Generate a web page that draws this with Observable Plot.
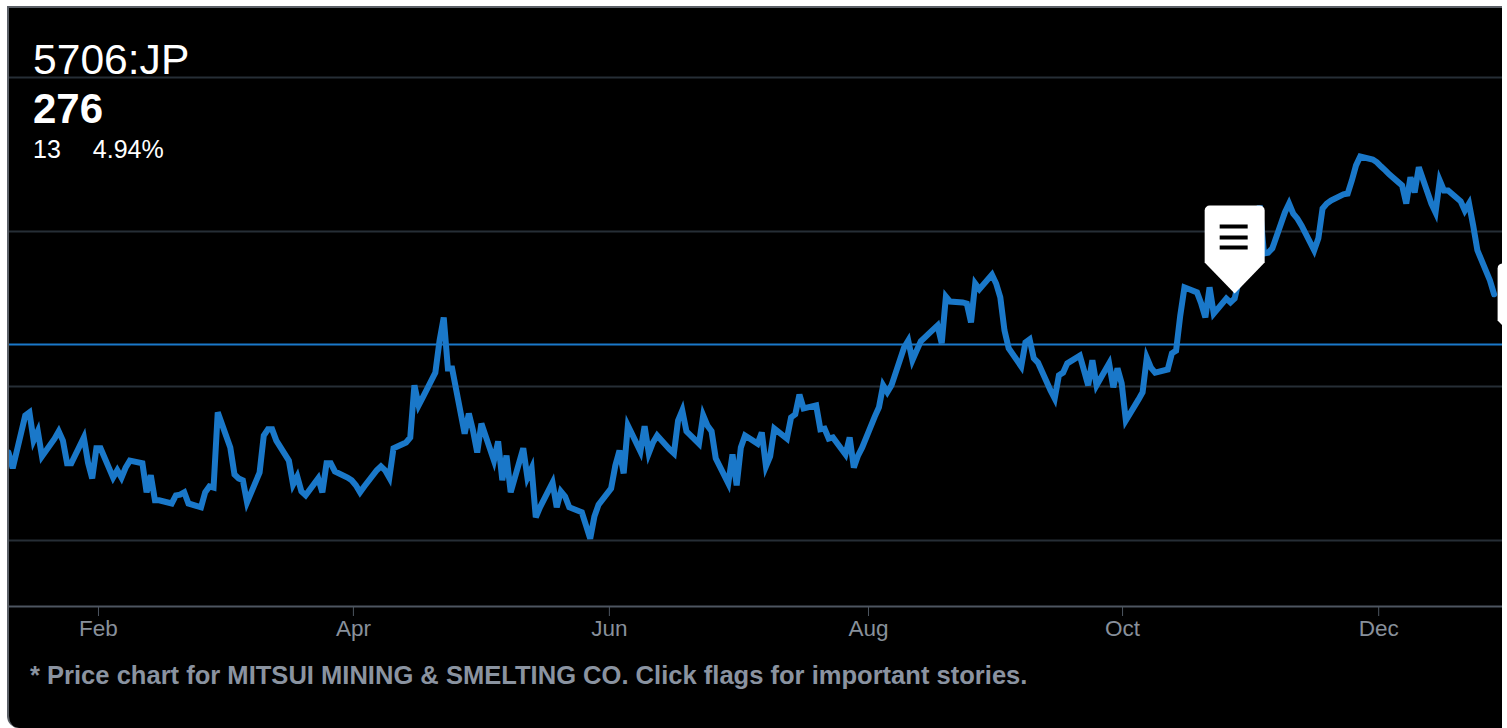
<!DOCTYPE html>
<html>
<head>
<meta charset="utf-8">
<script src="https://cdn.jsdelivr.net/npm/d3@7"></script>
<script src="https://cdn.jsdelivr.net/npm/@observablehq/plot@0.6"></script>
<style>
  html, body { margin: 0; padding: 0; background: #fff; overflow: hidden; }
  #panel {
    position: absolute; left: 7px; top: 6px; width: 1493px; height: 720px;
    background: #000; overflow: hidden;
    border-left: 2px solid #5a5f66; border-top: 2px solid #5a5f66;
    border-bottom-left-radius: 12px;
    font-family: "Liberation Sans", Arial, sans-serif; color: #fff;
  }
  #chart { position: absolute; left: -1px; top: 0; }
  .quote { position: absolute; left: 24px; white-space: pre; line-height: 1; }
  #ticker { top: 30px; font-size: 42.6px; }
  #last { top: 80px; font-size: 42px; font-weight: bold; }
  #change { top: 129px; font-size: 25px; }
  #change span { margin-left: 32px; }
  #note {
    position: absolute; left: 21px; top: 655px; white-space: pre;
    font-size: 25.55px; font-weight: bold; color: #8a93a0; line-height: 1;
  }
</style>
</head>
<body>
<div id="panel">
  <div id="chart"></div>
  <div id="ticker" class="quote"></div>
  <div id="last" class="quote"></div>
  <div id="change" class="quote"></div>
  <div id="note"></div>
</div>
<script>
// Quote header and footnote
const ticker = "5706:JP";
const lastPrice = 276;
const netChange = 13;
const pctChange = "4.94%";
const note = "* Price chart for MITSUI MINING & SMELTING CO. Click flags for important stories.";

// One close per weekday over the year shown
const closes = [
  235.0, 230.9,
  244.6, 245.4, 238.1, 240.5, 234.0,
  238.6, 240.5, 238.1, 232.2, 232.2,
  238.9, 232.4, 228.3, 236.1, 236.1,
  228.5, 230.4, 228.5, 231.1, 232.9,
  232.2, 224.7, 229.1, 222.6, 222.6,
  221.8, 223.9, 224.1, 224.7, 221.8,
  220.8, 224.7, 226.2, 225.9, 245.4,
  236.3, 229.3, 228.3, 227.8, 222.1,
  229.8, 239.4, 241.0, 241.0, 238.1,
  232.9, 226.7, 228.8, 224.9, 223.9,
  228.3, 224.7, 232.2, 232.2, 230.1,
  228.5, 227.8, 226.5, 224.7, 226.2,
  230.4, 231.4, 230.4, 228.5, 236.1,
  237.6, 238.9, 252.4, 247.2, 249.3,
  255.7, 264.0, 270.0, 256.8, 256.8,
  239.9, 245.1, 240.7, 235.0, 242.5,
  232.9, 237.9, 227.8, 234.2, 224.7,
  236.1, 228.5, 230.9, 218.2, 220.8,
  227.2, 220.8, 224.9, 223.6, 220.8,
  219.5, 216.1, 212.7, 218.4, 221.5,
  225.7, 231.6, 235.5, 229.6, 242.0,
  235.3, 241.8, 234.8, 237.6, 239.4,
  235.8, 234.8, 243.3, 245.9, 240.5,
  237.3, 244.6, 242.0, 240.5, 233.5,
  227.0, 234.5, 226.5, 236.3, 239.4,
  237.3, 240.2, 231.4, 234.0, 241.2,
  238.6, 244.1, 244.9, 250.0, 246.4,
  247.2, 241.0, 241.2, 238.6, 238.9,
  234.5, 238.9, 231.1, 234.2, 236.3,
  244.3, 246.7, 252.4, 250.6, 252.4,
  262.2, 264.0, 258.9, 261.4, 263.8,
  266.9, 267.9, 263.3, 275.4, 274.1,
  273.9, 273.6, 268.7, 278.8, 277.3,
  281.1, 278.8, 275.2, 266.6, 262.0,
  257.3, 263.5, 264.3, 259.4, 258.3,
  251.1, 249.0, 255.0, 255.7, 258.1,
  260.1, 256.3, 252.4, 258.9, 252.4,
  258.1, 251.9, 256.8, 252.9, 243.3,
  248.7, 250.6, 259.6, 257.0, 255.7,
  256.5, 260.7, 261.4, 270.5, 277.8,
  276.5, 273.6, 270.0, 277.8, 271.0,
  274.9, 273.9, 274.9, 279.6, 284.0,
  289.9, 299.0, 286.6, 286.8, 287.9,
  297.2, 299.5, 296.9, 295.6, 293.8,
  287.4, 290.5, 298.2, 299.5, 300.3,
  301.9, 302.1, 305.5, 309.4, 311.7,
  310.9, 310.2, 309.1, 308.1, 307.0,
  304.2, 299.5, 306.3, 302.4, 308.9,
  299.5, 297.2, 305.5, 302.9, 302.9,
  300.1, 297.7, 299.5, 293.8, 287.4,
  279.6, lastPrice
];

const previousClose = lastPrice - netChange;
const gridPrices = [212.2, 252.1, 292.3, 332.2];
const priceDomain = [195.1, 350.05];

const firstDay = new Date(Date.UTC(2008, 0, 10));
const endDay = new Date(Date.UTC(2009, 0, 1));

// Month labels sit on the session where the month's data begins
const tickLabels = ["Feb", "Apr", "Jun", "Aug", "Oct", "Dec"];
const tickDates = [
  new Date(Date.UTC(2008, 0, 31, 12)), new Date(Date.UTC(2008, 3, 1, 10)),
  new Date(Date.UTC(2008, 5, 1, 14)), new Date(Date.UTC(2008, 7, 2, 12)),
  new Date(Date.UTC(2008, 9, 2, 5)), new Date(Date.UTC(2008, 11, 2, 10))
];

// Story flags pinned to the price line
const flagDates = [new Date(Date.UTC(2008, 9, 29)), new Date(Date.UTC(2009, 0, 7))];
const flagPrices = [276.2, 261.2];

// Weekday calendar that the closes are laid along
const sessions = d3.utcDay.range(firstDay, endDay)
  .filter(d => d.getUTCDay() !== 0 && d.getUTCDay() !== 6)
  .slice(0, closes.length);
const prices = sessions.map((date, i) => ({date, close: closes[i]}));
const flags = flagDates.map((date, i) => ({date, price: flagPrices[i]}));

// Pin-shaped flag body, its tip sitting at the origin
const flagBody = {
  draw(c) {
    c.moveTo(0, 0);
    c.lineTo(-30, -31);
    c.arcTo(-30, -88, -25, -88, 5);
    c.arcTo(30, -88, 30, -83, 5);
    c.lineTo(30, -31);
    c.closePath();
  }
};
// Three-line menu glyph on the flag
const flagGlyph = {
  draw(c) {
    for (const top of [-69, -58, -48]) c.rect(-15, top, 28, 4);
  }
};

const chart = Plot.plot({
  width: 1494,
  height: 640,
  marginLeft: 0,
  marginRight: 0,
  marginTop: 0,
  marginBottom: 42,
  style: {background: "transparent", fontFamily: "'Liberation Sans', Arial, sans-serif"},
  x: {type: "utc", domain: [firstDay, endDay], label: null},
  y: {domain: priceDomain, label: null, axis: null},
  marks: [
    Plot.ruleY(gridPrices, {stroke: "#262e36", strokeWidth: 2}),
    Plot.ruleY([previousClose], {stroke: "#1a78c9", strokeWidth: 2}),
    Plot.ruleY([priceDomain[0]], {stroke: "#4d5560", strokeWidth: 2}),
    Plot.axisX({
      ticks: tickDates,
      tickFormat: (d, i) => tickLabels[i],
      tickSize: 10,
      tickPadding: 4,
      stroke: "#4d5560",
      fill: "#88909b",
      fontSize: 22.5,
      label: null
    }),
    Plot.line(prices, {
      x: "date", y: "close",
      stroke: "#1a78c9", strokeWidth: 6,
      strokeLinejoin: "miter", strokeMiterlimit: 4, curve: "linear"
    }),
    Plot.dot(flags, {x: "date", y: "price", symbol: flagBody, fill: "#fff", stroke: "none", r: 10}),
    Plot.dot(flags, {x: "date", y: "price", symbol: flagGlyph, fill: "#000", stroke: "none", r: 10})
  ]
});
document.getElementById("chart").append(chart);

document.getElementById("ticker").textContent = ticker;
document.getElementById("last").textContent = lastPrice;
document.getElementById("change").innerHTML = `${netChange}<span>${pctChange}</span>`;
document.getElementById("note").textContent = note;
</script>
</body>
</html>
